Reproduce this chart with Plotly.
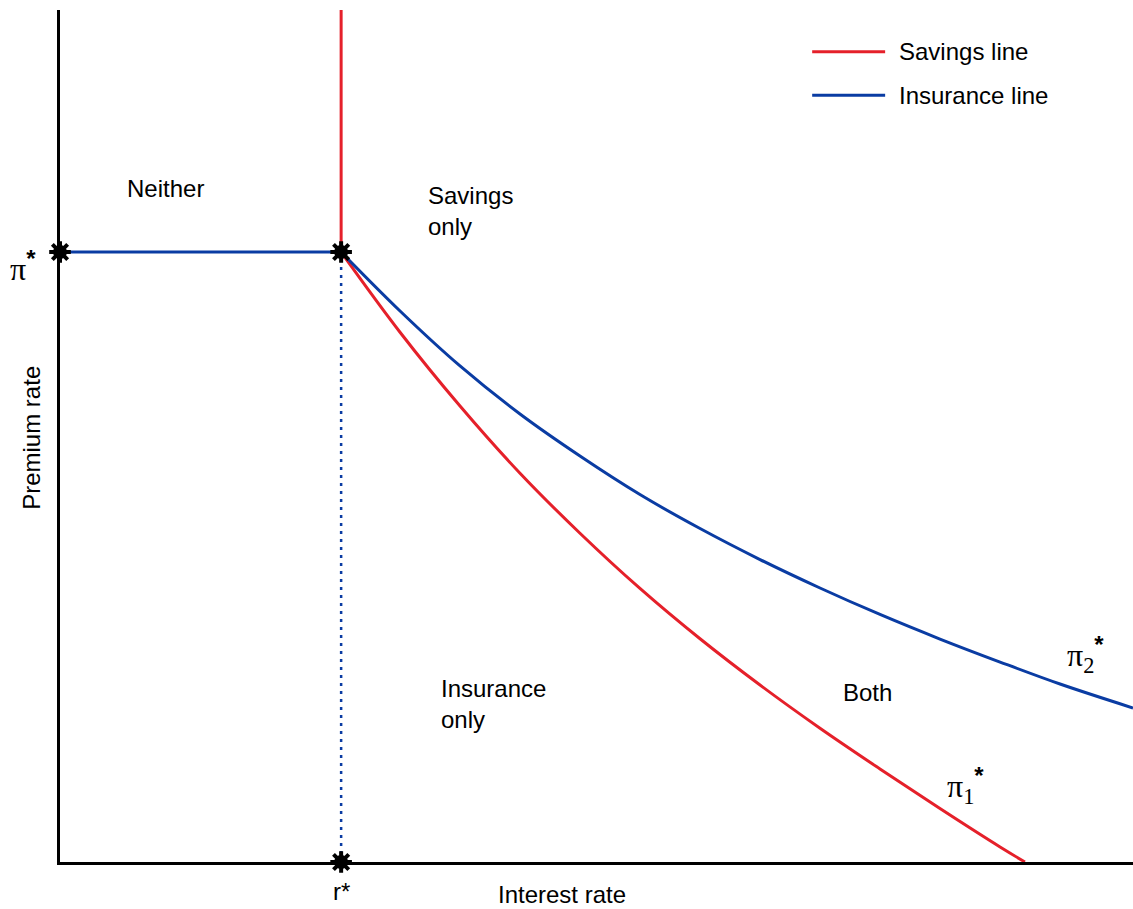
import plotly.graph_objects as go

# Threshold point: critical interest rate r* and premium rate pi*
r_star = 0.262
pi_star = 0.716

# Savings line (pi_1*): falls from the threshold point down to the x-axis
savings_x = [0.2619, 0.3169, 0.3728, 0.4287, 0.4846, 0.5405, 0.5965, 0.6524,
             0.7083, 0.7642, 0.8201, 0.8761, 0.8993]
savings_y = [0.7160, 0.6218, 0.5352, 0.4563, 0.3859, 0.3211, 0.2620, 0.2077,
             0.1570, 0.1092, 0.0627, 0.0176, 0.0000]

# Insurance line (pi_2*): flatter decline to the right edge
insurance_x = [0.2619, 0.3169, 0.3728, 0.4287, 0.4846, 0.5405, 0.5965, 0.6524,
               0.7083, 0.7642, 0.8201, 0.8761, 0.9320, 1.0000]
insurance_y = [0.7160, 0.6467, 0.5822, 0.5258, 0.4765, 0.4313, 0.3914, 0.3550,
               0.3216, 0.2905, 0.2617, 0.2347, 0.2089, 0.1808]

# Key points marked on the chart
key_x = [0.0, r_star, r_star]
key_y = [pi_star, pi_star, 0.0]

RED = "#e5202a"
BLUE = "#0a3ca3"
SANS = "Liberation Sans, Arial, Helvetica, sans-serif"
SERIF = "Liberation Serif, Times New Roman, serif"
FS = 24

fig = go.Figure()

# Savings line: vertical part above r*, then the curve
fig.add_trace(go.Scatter(x=[r_star, r_star], y=[1.0, pi_star], mode="lines",
                         line=dict(color=RED, width=3), showlegend=False))
fig.add_trace(go.Scatter(x=savings_x, y=savings_y, mode="lines",
                         line=dict(color=RED, width=3, shape="spline", smoothing=1.0),
                         showlegend=False))

# Insurance line: flat part left of r*, then the curve
fig.add_trace(go.Scatter(x=[0.0, r_star], y=[pi_star, pi_star], mode="lines",
                         line=dict(color=BLUE, width=3), showlegend=False))
fig.add_trace(go.Scatter(x=insurance_x, y=insurance_y, mode="lines",
                         line=dict(color=BLUE, width=3, shape="spline", smoothing=1.0),
                         showlegend=False))

# Dotted drop line at r*
fig.add_trace(go.Scatter(x=[r_star, r_star], y=[0.0, pi_star], mode="lines",
                         line=dict(color=BLUE, width=2.5, dash="3px,5px"), showlegend=False))

# Key point markers (asterisk over a filled disc)
fig.add_trace(go.Scatter(x=key_x, y=key_y, mode="markers", cliponaxis=False,
                         marker=dict(symbol="circle", size=14, color="black",
                                     line=dict(width=0)),
                         showlegend=False))
fig.add_trace(go.Scatter(x=key_x, y=key_y, mode="markers", cliponaxis=False,
                         marker=dict(symbol="asterisk-open", size=18, color="black",
                                     line=dict(color="black", width=4)),
                         showlegend=False))

annotations = [
    dict(x=0.0979, y=0.791, text="Neither", xanchor="center", yanchor="middle"),
    dict(x=0.341, y=0.764, text="Savings<br>only", xanchor="left", yanchor="middle", align="left"),
    dict(x=0.353, y=0.185, text="Insurance<br>only", xanchor="left", yanchor="middle", align="left"),
    dict(x=0.753, y=0.1995, text="Both", xanchor="center", yanchor="middle"),
    dict(x=r_star, y=-0.035, text="r*", xanchor="center", yanchor="middle"),
    dict(x=0.468, y=-0.0385, text="Interest rate", xanchor="center", yanchor="middle"),
]
for a in annotations:
    a.update(xref="paper", yref="paper", showarrow=False,
             font=dict(family=SANS, size=FS, color="black"))

# Greek labels for the two lines and pi*
STAR = ("<span style='font-family:Liberation Sans, Arial, sans-serif;"
        "font-weight:bold;font-size:24px'>*</span>")
greek = [
    dict(x=0.956, y=0.243, text="π<sub>2</sub><sup>" + STAR + "</sup>"),
    dict(x=0.844, y=0.090, text="π<sub>1</sub><sup>" + STAR + "</sup>"),
    dict(x=-0.0345, y=0.700, text="π<sup>" + STAR + "</sup>"),
]
for a in greek:
    a.update(xref="paper", yref="paper", showarrow=False, xanchor="center",
             yanchor="middle", font=dict(family=SERIF, size=32, color="black"))
    annotations.append(a)

annotations.append(dict(x=-0.026, y=0.498, xref="paper", yref="paper", text="Premium rate",
                        textangle=-90, showarrow=False, xanchor="center", yanchor="middle",
                        font=dict(family=SANS, size=FS, color="black")))

# Legend drawn as short line samples with labels
legend_items = [("Savings line", RED, 0.951), ("Insurance line", BLUE, 0.900)]
shapes = []
for label, color, ly in legend_items:
    shapes.append(dict(type="line", xref="paper", yref="paper", x0=0.701, x1=0.769,
                       y0=ly, y1=ly, line=dict(color=color, width=3)))
    annotations.append(dict(x=0.780, y=ly, xref="paper", yref="paper", text=label,
                            showarrow=False, xanchor="left", yanchor="middle",
                            font=dict(family=SANS, size=FS, color="black")))

fig.update_layout(
    width=1133, height=909,
    margin=dict(l=60, r=0, t=10, b=47),
    paper_bgcolor="white", plot_bgcolor="white",
    showlegend=False,
    annotations=annotations,
    shapes=shapes,
    xaxis=dict(range=[0, 1], showgrid=False, zeroline=False, showticklabels=False,
               ticks="", showline=True, linecolor="black", linewidth=2.5),
    yaxis=dict(range=[0, 1], showgrid=False, zeroline=False, showticklabels=False,
               ticks="", showline=True, linecolor="black", linewidth=2.5),
)

fig.write_html("out.html")
